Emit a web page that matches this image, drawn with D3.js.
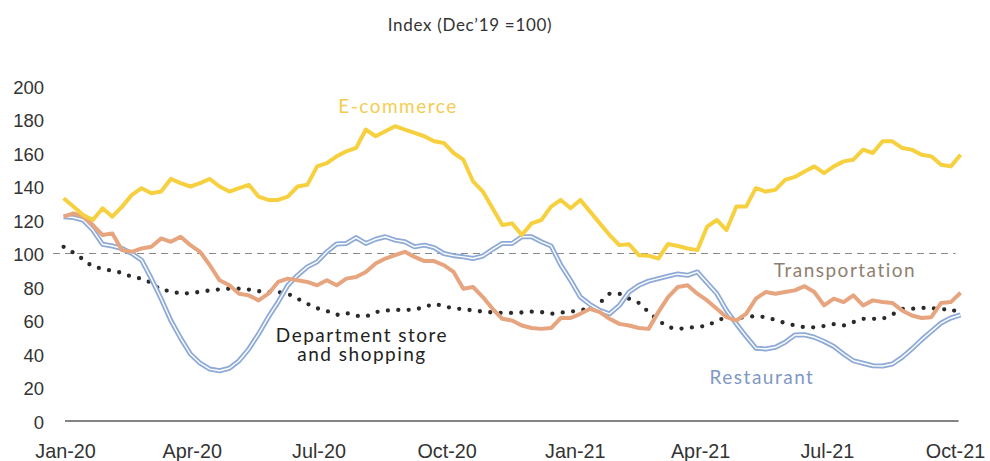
<!DOCTYPE html>
<html>
<head>
<meta charset="utf-8">
<script src="https://cdn.jsdelivr.net/npm/d3@7"></script>
<style>
  html, body { margin: 0; padding: 0; background: #fff; }
  svg { display: block; }
</style>
</head>
<body>
<svg id="chart" width="990" height="461"></svg>
<script>
// Weekly spending indices, Dec'19 = 100
const firstWeek = "2019-12-31";
const ecommerce = [133,128,123,120,127,122,128,135,139,136,137,144.5,142,140,142,144.5,140,137,139,141,
  134,132,132,134,140,141,152,154,158,161,163,174,170,173,176,174,172,170,167,166,
  160,156,143,137,127,117,118,111,118,120,128,132,127,132,125,118,111,105,105.5,99,
  98.7,97,105.7,104.5,103,102,116,120,114,128,128,139,137,138,144,145.7,149,152,148,152,
  155,156,162,160,167,167,163,162,159,158,153,152,159];
const transportation = [122,124,122,117,111,112,102,101,103,104,109,107,110,105,101,93,84,81,76,75,
  72,76,83,85,84,83,81,84,81,85,86,89,94,97,99,101,98,95.5,95.5,93,
  89,79,80,74,67,61,60,57,55.5,55,55.5,61.5,61.5,64,67,65,61,58,57,55.5,
  55,65,74,80,81,76,72,67,62,60,64,73,77,76,77,78,80.5,77,69,73,
  71,75,69,72,71,70.5,66,63,61.5,62,70.5,71,76.6];
const restaurant = [122,121.5,120,114,105.5,104.5,103,100,96,85,73,60,49.5,40,34.5,31,30,31.5,36,43,
  52,62,71,81,87,92,95,101,105.7,106,109.5,106,108.5,110,108,107,104,105,103.5,100,
  98.7,98,97,98.5,102.5,106,106,110,110,107,104.5,93,84,74,69.5,66,64,69,77,81,
  83.5,85,86.5,87.8,87,89,82.5,76,66,58,50.5,43.5,43,44,47,51.3,51.5,50,47.5,44.5,
  40,36,34.5,33,32.8,34,38,43,48.5,53.5,58.5,61.5,63.3];
const deptStore = [104,100.5,96.5,92,91,89.5,88.5,86,85,82.5,78,77.8,75.8,76.5,77,78,78.6,79,79,78.5,
  77.5,77,77,76,73,70,67.3,65.7,63.3,64.5,62.8,62.3,65,65.9,66.3,66.3,66.5,68,70,68.5,
  67.3,66.7,66,65.3,64.8,64.5,64.5,64.8,65.3,65,64,64.7,65.3,66,67.5,70.5,76,76,73,70.5,
  65,60,56,55,55.5,56.3,56.7,60,61.8,61.5,62,62.7,62,60.3,58.5,57,56,55.9,56.7,57.8,
  57,59,61,61,61,63.5,67,67,67.5,67.5,66.5,67,63.9];
const yTicks = [0,20,40,60,80,100,120,140,160,180,200];
const xTickDates = ["2020-01-01","2020-04-01","2020-07-01","2020-10-01","2021-01-01","2021-04-01","2021-07-01","2021-10-01"];
const baseline = 100;

const parse = d3.utcParse("%Y-%m-%d");
const start = parse(firstWeek);
const weeks = d3.range(ecommerce.length).map(i => d3.utcDay.offset(start, 7 * i));

const svg = d3.select("#chart");

const x = d3.scaleUtc()
  .domain([parse("2020-01-01"), parse("2021-10-01")])
  .range([65, 955]);
const y = d3.scaleLinear().domain([0, 200]).range([421, 86]);

// Title
svg.append("text")
  .attr("x", 470).attr("y", 31)
  .attr("text-anchor", "middle")
  .attr("font-family", "Lato, 'Noto Sans', sans-serif")
  .attr("font-size", 17)
  .attr("letter-spacing", 0.7)
  .attr("fill", "#333")
  .text("Index (Dec\u201919 =100)");

// Y axis labels
const yAxis = d3.axisLeft(y).tickValues(yTicks).tickSize(0).tickPadding(0);
const gy = svg.append("g").attr("transform", "translate(44,1.5)").call(yAxis);
gy.select(".domain").remove();
gy.selectAll("text")
  .attr("font-family", "'Liberation Sans', Arial, sans-serif")
  .attr("font-size", 18.5)
  .attr("fill", "#333");

// X axis labels
const xAxis = d3.axisBottom(x)
  .tickValues(xTickDates.map(parse))
  .tickFormat(d3.utcFormat("%b-%y"))
  .tickSize(0).tickPadding(0);
const gx = svg.append("g").attr("transform", "translate(0,443.5)").call(xAxis);
gx.select(".domain").remove();
gx.selectAll("text")
  .attr("dy", "0.71em")
  .attr("font-family", "'Liberation Sans', Arial, sans-serif")
  .attr("font-size", 19.8)
  .attr("fill", "#333");

// Zero line and Dec'19 reference line
svg.append("line")
  .attr("x1", x(parse("2020-01-01"))).attr("x2", x(weeks[weeks.length - 1]) - 2)
  .attr("y1", y(0)).attr("y2", y(0))
  .attr("stroke", "#5a5a5a").attr("stroke-width", 1.5);
svg.append("line")
  .attr("x1", 53).attr("x2", x(weeks[weeks.length - 1]) - 5)
  .attr("y1", y(baseline)).attr("y2", y(baseline))
  .attr("stroke", "#8a8a8a").attr("stroke-width", 1)
  .attr("stroke-dasharray", "7,5");

const line = d3.line()
  .x((d, i) => x(weeks[i]))
  .y(d => y(d));

// Department store (dotted)
svg.append("path")
  .datum(deptStore)
  .attr("d", line)
  .attr("fill", "none")
  .attr("stroke", "#2a2a2a")
  .attr("stroke-width", 4.3)
  .attr("stroke-linecap", "round")
  .attr("stroke-dasharray", "0,10.4");

// Restaurant (double line: blue outline with white core)
svg.append("path")
  .datum(restaurant)
  .attr("d", line)
  .attr("fill", "none")
  .attr("stroke", "#8eaad6")
  .attr("stroke-width", 5)
  .attr("stroke-linejoin", "round");
svg.append("path")
  .datum(restaurant)
  .attr("d", line)
  .attr("fill", "none")
  .attr("stroke", "#ffffff")
  .attr("stroke-width", 1.4)
  .attr("stroke-linejoin", "round");

// Transportation
svg.append("path")
  .datum(transportation)
  .attr("d", line)
  .attr("fill", "none")
  .attr("stroke", "#e6a47f")
  .attr("stroke-width", 4)
  .attr("stroke-linejoin", "round");

// E-commerce
svg.append("path")
  .datum(ecommerce)
  .attr("d", line)
  .attr("fill", "none")
  .attr("stroke", "#f7d03f")
  .attr("stroke-width", 4)
  .attr("stroke-linejoin", "round");

// Series labels
const labelFont = "Lato, 'Noto Sans', sans-serif";
function seriesLabel(cx, cy, color, txt) {
  return svg.append("text")
    .attr("x", cx).attr("y", cy)
    .attr("text-anchor", "middle")
    .attr("font-family", labelFont).attr("font-size", 19)
    .attr("letter-spacing", 1.5)
    .attr("fill", color)
    .text(txt);
}
seriesLabel(398, 113, "#f3cd4f", "E-commerce");
seriesLabel(845, 277, "#8f7f72", "Transportation");
seriesLabel(762, 384, "#7f98c4", "Restaurant");
seriesLabel(362, 342, "#222", "Department store");
seriesLabel(362, 361, "#222", "and shopping");
</script>
</body>
</html>
